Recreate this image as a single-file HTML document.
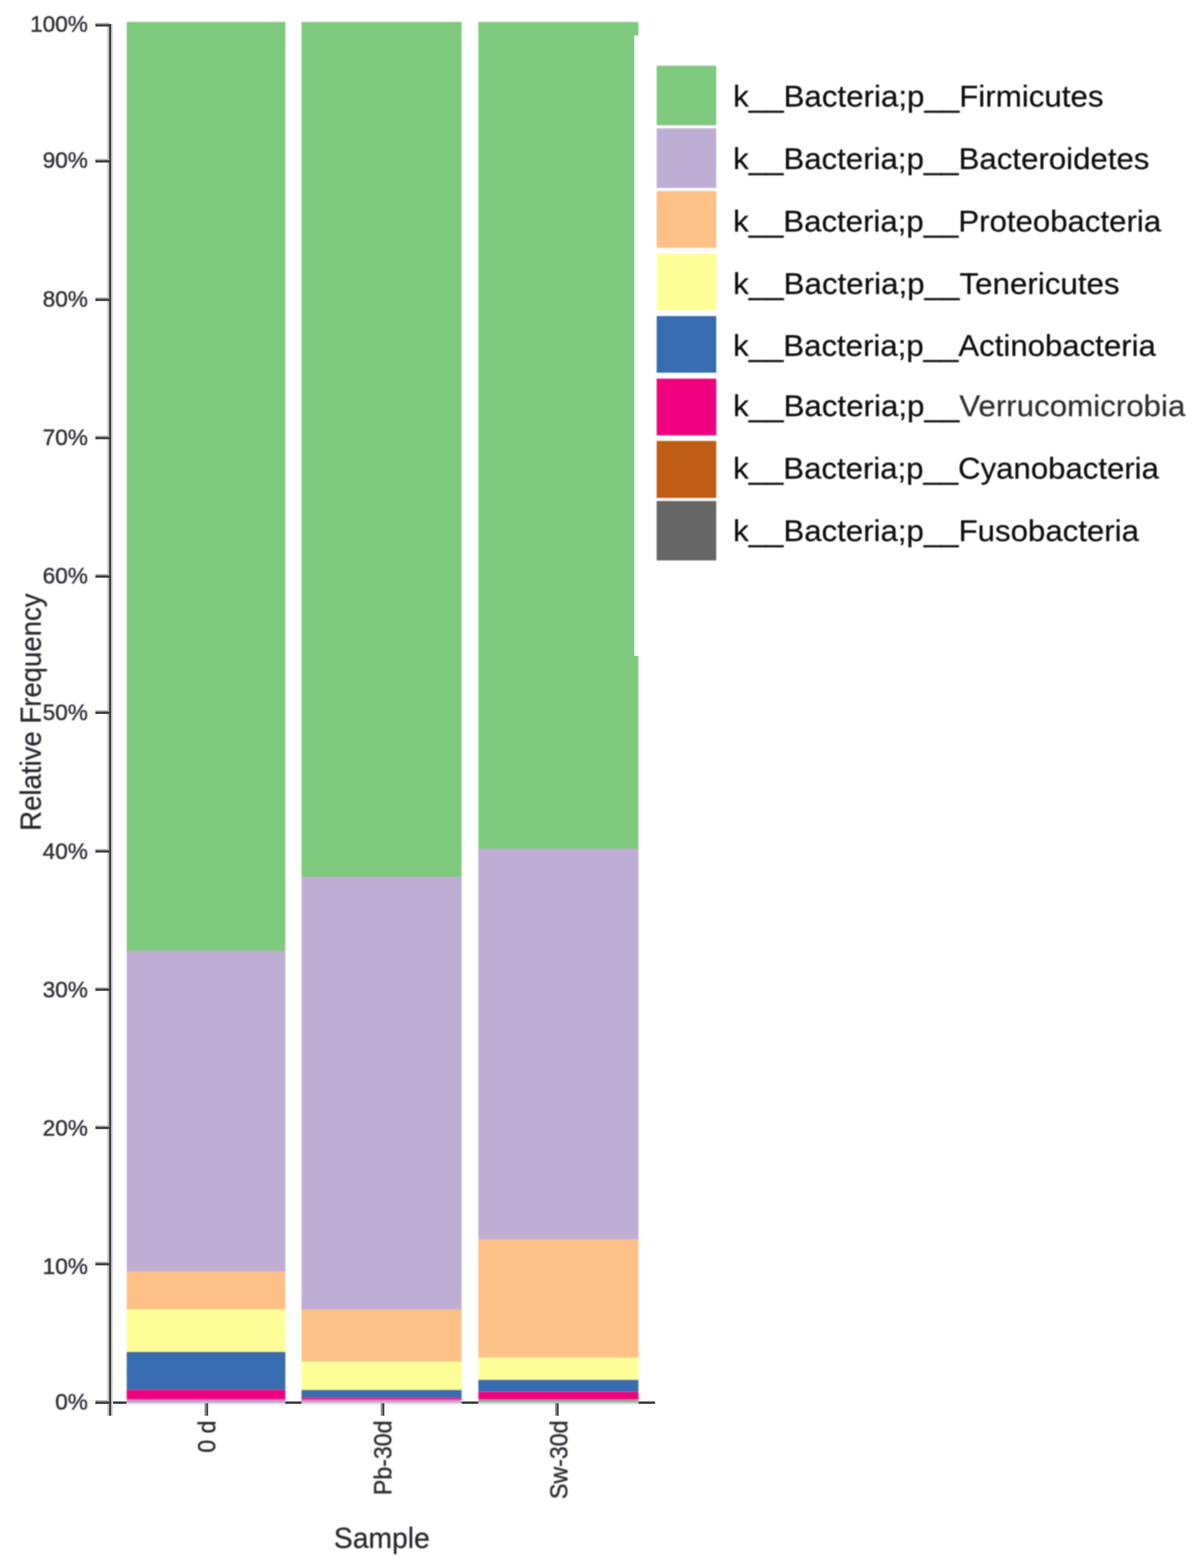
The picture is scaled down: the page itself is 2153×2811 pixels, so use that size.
<!DOCTYPE html>
<html lang="en"><head><meta charset="utf-8"><title>Taxa bar plot</title>
<style>
html,body{margin:0;padding:0;background:#fff;}
body{width:2153px;height:2811px;overflow:hidden;}
svg{display:block;}
text{font-family:"Liberation Sans","DejaVu Sans",sans-serif;}
.tk{font-size:40.5px;fill:#30303a;stroke:#30303a;stroke-width:0.7px;text-anchor:end;}
.xl{font-size:41.5px;fill:#2c2c34;stroke:#2c2c34;stroke-width:0.7px;text-anchor:end;}
.lg{font-size:54.5px;fill:#08080c;stroke:#08080c;stroke-width:0.3px;}
.ti{font-size:50px;fill:#2c2c34;stroke:#2c2c34;stroke-width:0.5px;}
.soft{filter:url(#soft);}
.soft2{filter:url(#soft2);}
</style></head><body>
<svg width="2153" height="2811" viewBox="0 0 2153 2811" role="img" aria-label="Stacked bar chart of relative frequency by sample">
<defs>
<filter id="soft" x="0" y="0" width="2153" height="2811" filterUnits="userSpaceOnUse"><feGaussianBlur stdDeviation="1.1"/></filter>
<filter id="soft2" x="0" y="0" width="2153" height="2811" filterUnits="userSpaceOnUse"><feGaussianBlur stdDeviation="0.6"/></filter>
</defs>
<rect x="0" y="0" width="2153" height="2811" fill="#ffffff"/>
<g id="xaxis" class="soft2">
<rect x="171.0" y="2512.4" width="56.5" height="4.4" fill="#3c3c3c"/>
<rect x="510.5" y="2512.4" width="31.0" height="4.4" fill="#3c3c3c"/>
<rect x="826.5" y="2512.4" width="32.0" height="4.4" fill="#3c3c3c"/>
<rect x="1143.5" y="2512.4" width="30.8" height="4.4" fill="#3c3c3c"/>
</g>
<g id="bars" class="soft">
<rect x="227.2" y="39.3" width="284.3" height="1666.1" fill="#7fc97f"/>
<rect x="227.2" y="1704.6" width="284.3" height="575.4" fill="#beaed4"/>
<rect x="227.2" y="2279.2" width="284.3" height="69.0" fill="#fdc086"/>
<rect x="227.2" y="2347.4" width="284.3" height="76.9" fill="#ffff99"/>
<rect x="227.2" y="2423.5" width="284.3" height="68.7" fill="#386cb0"/>
<rect x="227.2" y="2491.4" width="284.3" height="18.4" fill="#f0027f"/>
<rect x="227.2" y="2509.2" width="284.3" height="4.2" fill="#c592c8"/>
<rect x="227.2" y="2512.9" width="284.3" height="3.2" fill="#b9bbdc"/>
<rect x="227.2" y="2515.8" width="284.3" height="3.4" fill="#f1f1f5"/>
<rect x="540.5" y="39.3" width="287.0" height="1533.6" fill="#7fc97f"/>
<rect x="540.5" y="1572.1" width="287.0" height="776.3" fill="#beaed4"/>
<rect x="540.5" y="2347.6" width="287.0" height="94.2" fill="#fdc086"/>
<rect x="540.5" y="2441.0" width="287.0" height="51.4" fill="#ffff99"/>
<rect x="540.5" y="2491.6" width="287.0" height="14.5" fill="#386cb0"/>
<rect x="540.5" y="2505.5" width="287.0" height="4.5" fill="#f0027f"/>
<rect x="540.5" y="2509.2" width="287.0" height="4.2" fill="#d68cc4"/>
<rect x="540.5" y="2512.9" width="287.0" height="3.2" fill="#bac2e2"/>
<rect x="540.5" y="2515.8" width="287.0" height="3.4" fill="#f1f1f5"/>
<rect x="857.5" y="39.3" width="287.0" height="1482.9" fill="#7fc97f"/>
<rect x="857.5" y="1521.4" width="287.0" height="701.1" fill="#beaed4"/>
<rect x="857.5" y="2221.7" width="287.0" height="212.9" fill="#fdc086"/>
<rect x="857.5" y="2433.8" width="287.0" height="40.5" fill="#ffff99"/>
<rect x="857.5" y="2473.5" width="287.0" height="22.1" fill="#386cb0"/>
<rect x="857.5" y="2494.8" width="287.0" height="15.2" fill="#f0027f"/>
<rect x="857.5" y="2509.2" width="287.0" height="4.2" fill="#99a88a"/>
<rect x="857.5" y="2512.9" width="287.0" height="3.2" fill="#aac8c8"/>
<rect x="857.5" y="2515.8" width="287.0" height="3.4" fill="#f1f1f5"/>
</g>
<rect x="1137" y="63.6" width="16" height="1112.4" fill="#ffffff"/>
<g id="xticks" class="soft2">
<rect x="366.7" y="2515.6" width="3" height="22.4" fill="#8c8c8c"/>
<rect x="369.6" y="2515.6" width="3.6" height="22.4" fill="#4c4c4c"/>
<rect x="682.6" y="2515.6" width="3" height="22.4" fill="#8c8c8c"/>
<rect x="685.5" y="2515.6" width="3.6" height="22.4" fill="#4c4c4c"/>
<rect x="995.1" y="2515.6" width="3" height="22.4" fill="#8c8c8c"/>
<rect x="998.0" y="2515.6" width="3.6" height="22.4" fill="#4c4c4c"/>
</g>
<g id="yaxis" class="soft2">
<rect x="192.2" y="43" width="3.5" height="2495" fill="#c6c6c6"/>
<rect x="199.2" y="43" width="3.6" height="2495" fill="#dadada"/>
<rect x="195.6" y="43" width="3.7" height="2495" fill="#3a3a3a"/>
<rect x="171" y="40.9" width="25" height="3" fill="#b4b4b4"/>
<rect x="171" y="43.4" width="25.5" height="4.2" fill="#424242"/>
<rect x="171" y="284.7" width="25" height="3" fill="#b4b4b4"/>
<rect x="171" y="287.2" width="25.5" height="4.2" fill="#424242"/>
<rect x="171" y="533.0" width="25" height="3" fill="#b4b4b4"/>
<rect x="171" y="535.5" width="25.5" height="4.2" fill="#424242"/>
<rect x="171" y="780.8" width="25" height="3" fill="#b4b4b4"/>
<rect x="171" y="783.3" width="25.5" height="4.2" fill="#424242"/>
<rect x="171" y="1029.0" width="25" height="3" fill="#b4b4b4"/>
<rect x="171" y="1031.5" width="25.5" height="4.2" fill="#424242"/>
<rect x="171" y="1273.3" width="25" height="3" fill="#b4b4b4"/>
<rect x="171" y="1275.8" width="25.5" height="4.2" fill="#424242"/>
<rect x="171" y="1521.8" width="25" height="3" fill="#b4b4b4"/>
<rect x="171" y="1524.3" width="25.5" height="4.2" fill="#424242"/>
<rect x="171" y="1769.7" width="25" height="3" fill="#b4b4b4"/>
<rect x="171" y="1772.2" width="25.5" height="4.2" fill="#424242"/>
<rect x="171" y="2017.5" width="25" height="3" fill="#b4b4b4"/>
<rect x="171" y="2020.0" width="25.5" height="4.2" fill="#424242"/>
<rect x="171" y="2261.8" width="25" height="3" fill="#b4b4b4"/>
<rect x="171" y="2264.3" width="25.5" height="4.2" fill="#424242"/>
<rect x="171" y="2510.0" width="25" height="3" fill="#b4b4b4"/>
<rect x="171" y="2512.5" width="25.5" height="4.2" fill="#424242"/>
</g>
<g id="ylabels" class="soft">
<text class="tk" transform="translate(157.5,57.3) scale(1,1.02)" x="0" y="0">100%</text>
<text class="tk" transform="translate(157.5,301.5) scale(1,1.02)" x="0" y="0">90%</text>
<text class="tk" transform="translate(157.5,550.1) scale(1,1.02)" x="0" y="0">80%</text>
<text class="tk" transform="translate(157.5,798.0) scale(1,1.02)" x="0" y="0">70%</text>
<text class="tk" transform="translate(157.5,1046.3) scale(1,1.02)" x="0" y="0">60%</text>
<text class="tk" transform="translate(157.5,1291.3) scale(1,1.02)" x="0" y="0">50%</text>
<text class="tk" transform="translate(157.5,1540.0) scale(1,1.02)" x="0" y="0">40%</text>
<text class="tk" transform="translate(157.5,1787.9) scale(1,1.02)" x="0" y="0">30%</text>
<text class="tk" transform="translate(157.5,2036.3) scale(1,1.02)" x="0" y="0">20%</text>
<text class="tk" transform="translate(157.5,2284.3) scale(1,1.02)" x="0" y="0">10%</text>
<text class="tk" transform="translate(157.5,2526.8) scale(1,1.02)" x="0" y="0">0%</text>
</g>
<g id="xlabels" class="soft">
<text class="xl" transform="translate(386.0,2546.6) rotate(-90) scale(1,1.06)" x="0" y="0">0 d</text>
<text class="xl" transform="translate(702.0,2546.6) rotate(-90) scale(1,1.06)" x="0" y="0">Pb-30d</text>
<text class="xl" transform="translate(1017.5,2546.6) rotate(-90) scale(1,1.06)" x="0" y="0">Sw-30d</text>
</g>
<g id="titles" class="soft">
<text class="ti" transform="translate(73.4,1489.4) rotate(-90) scale(0.988,1.05)" x="0" y="0">Relative Frequency</text>
<text class="ti" transform="translate(598.6,2775.3) scale(1.014,1.03)" x="0" y="0">Sample</text>
</g>
<g id="legend" class="soft">
<rect x="1177.2" y="117.8" width="106.8" height="106.8" fill="#7fc97f"/>
<rect x="1177.2" y="230.1" width="106.8" height="106.8" fill="#beaed4"/>
<rect x="1177.2" y="342.4" width="106.8" height="101.8" fill="#fdc086"/>
<rect x="1177.2" y="454.7" width="106.8" height="101.1" fill="#ffff99"/>
<rect x="1177.2" y="566.6" width="106.8" height="101.5" fill="#386cb0"/>
<rect x="1177.2" y="678.8" width="106.8" height="101.6" fill="#f0027f"/>
<rect x="1177.2" y="790.5" width="106.8" height="102.2" fill="#bf5b17"/>
<rect x="1177.2" y="898.2" width="106.8" height="106.5" fill="#666666"/>
<text class="lg" transform="translate(1314.20,190.7) scale(1.0295,1)" x="0" y="0">k__Bacteria;p__Firmicutes</text>
<text class="lg" transform="translate(1314.21,302.9) scale(1.0266,1)" x="0" y="0">k__Bacteria;p__Bacteroidetes</text>
<text class="lg" transform="translate(1314.21,415.0) scale(1.0256,1)" x="0" y="0">k__Bacteria;p__Proteobacteria</text>
<text class="lg" transform="translate(1314.19,527.2) scale(1.0303,1)" x="0" y="0">k__Bacteria;p__Tenericutes</text>
<text class="lg" transform="translate(1314.21,638.4) scale(1.0253,1)" x="0" y="0">k__Bacteria;p__Actinobacteria</text>
<text class="lg" transform="translate(1314.20,746.0) scale(1.0296,1)" x="0" y="0">k__Bacteria;p__<tspan fill="#2e2e34" stroke="#2e2e34">Verrucomicrobia</tspan></text>
<text class="lg" transform="translate(1314.22,858.0) scale(1.0243,1)" x="0" y="0">k__Bacteria;p__Cyanobacteria</text>
<text class="lg" transform="translate(1314.21,970.0) scale(1.0264,1)" x="0" y="0">k__Bacteria;p__Fusobacteria</text>
</g>
</svg>
</body></html>
